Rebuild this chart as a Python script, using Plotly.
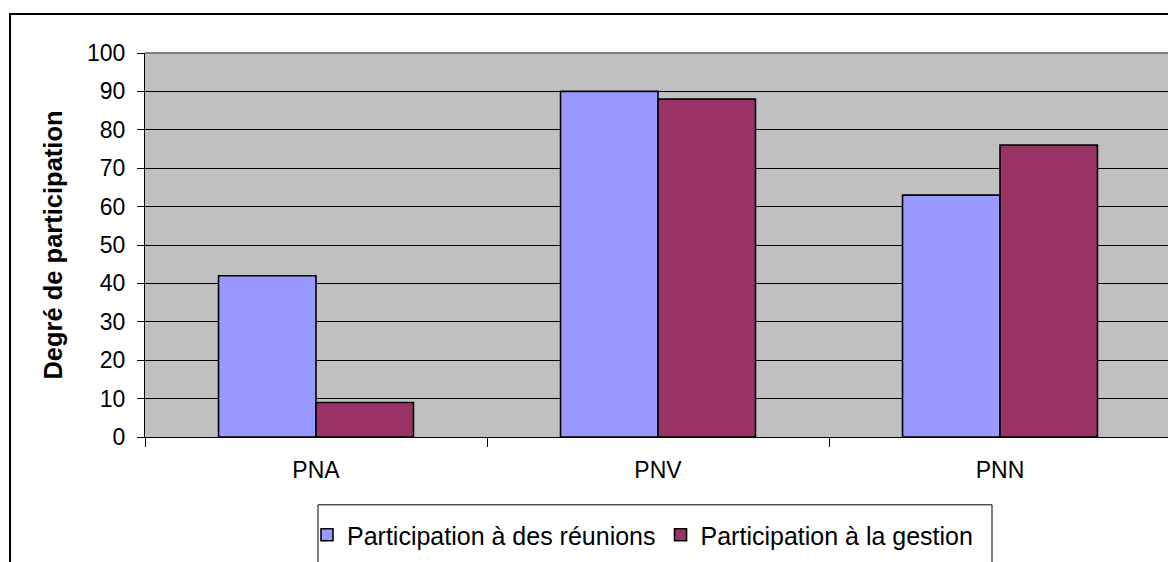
import plotly.graph_objects as go

categories = ["PNA", "PNV", "PNN"]
reunions = [42, 90, 63]
gestion = [9, 88, 76]
series_names = ["Participation à des réunions", "Participation à la gestion"]
y_ticks = list(range(0, 101, 10))

# page has an 8px body margin; figure is offset by 8px
W, H = 1168, 554
L, R, T, B = 137, 5, 45, 124
pw, ph = W - L - R, H - T - B

def px_x(p):
    # p: reference image x pixel
    return (p - 145) / pw

def px_y(p):
    # p: reference image y pixel
    return (438 - p) / ph

FONT = "Liberation Sans, Arial, sans-serif"

fig = go.Figure()
fig.add_trace(go.Bar(x=categories, y=reunions, name=series_names[0],
                     marker=dict(color="#9999FF", line=dict(color="black", width=1.6))))
fig.add_trace(go.Bar(x=categories, y=gestion, name=series_names[1],
                     marker=dict(color="#993366", line=dict(color="black", width=1.6))))

fig.update_layout(
    width=W, height=H,
    margin=dict(l=L, r=R, t=T, b=B, pad=0),
    paper_bgcolor="white", plot_bgcolor="#C0C0C0",
    barmode="group", bargap=0.43, bargroupgap=0,
    font=dict(family=FONT, color="black", size=23),
    showlegend=True,
    legend=dict(orientation="h", xanchor="left", x=px_x(307), yanchor="top", y=px_y(512),
                bgcolor="rgba(0,0,0,0)", borderwidth=0, font=dict(size=25),
                itemwidth=30, tracegroupgap=0),
    xaxis=dict(showgrid=False, showline=True, linecolor="black", linewidth=1,
               ticks="outside", tickson="boundaries", ticklen=9, tickcolor="black",
               tickfont=dict(size=23), ticklabelstandoff=12, fixedrange=True),
    yaxis=dict(range=[0, 100], tickvals=y_ticks, showgrid=True, gridcolor="black", gridwidth=1,
               showline=True, linecolor="black", linewidth=1, ticks="outside", ticklen=7,
               tickcolor="black", tickfont=dict(size=23), zeroline=False, ticklabelstandoff=7,
               title=dict(text="<b>Degré de participation</b>", font=dict(size=25.5), standoff=17)),
    shapes=[
        # plot area border (gray top/right)
        dict(type="line", xref="paper", yref="paper", x0=0, x1=1, y0=1, y1=1,
             line=dict(color="#808080", width=2)),
        dict(type="line", xref="paper", yref="paper", x0=1, x1=1, y0=0, y1=1,
             line=dict(color="#808080", width=2)),
        # outer chart border
        dict(type="rect", xref="paper", yref="paper", x0=px_x(10), x1=px_x(1200),
             y0=px_y(600), y1=px_y(14), line=dict(color="black", width=2)),
        # legend box
        dict(type="rect", xref="paper", yref="paper", x0=px_x(318), x1=px_x(992),
             y0=px_y(600), y1=px_y(506), line=dict(color="black", width=1)),
    ],
)

fig.write_html("out.html")
